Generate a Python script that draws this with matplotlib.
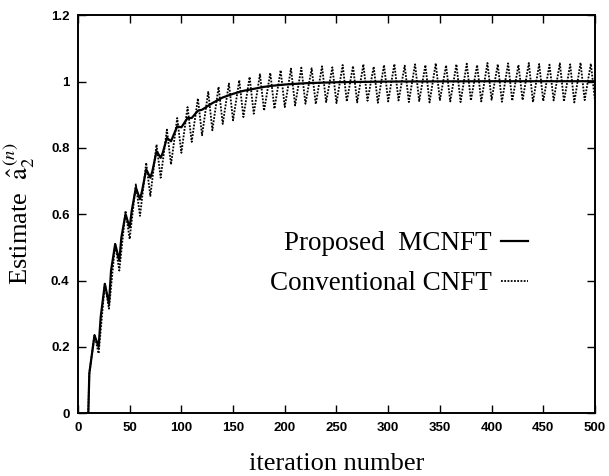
import matplotlib
matplotlib.use("Agg")
import matplotlib.pyplot as plt

# proposed MCNFT (solid), vertices
mcnft_n = [10, 11, 16, 20, 22, 26, 30, 32, 36, 40, 42, 46, 50, 52, 56, 60, 62, 66,
           70, 72, 76, 80, 82, 86, 90, 96, 100, 106, 110, 116, 120, 130, 140, 150,
           160, 170, 180, 190, 200, 220, 250, 300, 400, 500]
mcnft_v = [0.0, 0.12, 0.235, 0.20, 0.29, 0.39, 0.33, 0.43, 0.51, 0.46, 0.53, 0.60,
           0.56, 0.61, 0.68, 0.645, 0.67, 0.735, 0.71, 0.73, 0.79, 0.77, 0.785, 0.83,
           0.82, 0.865, 0.862, 0.89, 0.89, 0.912, 0.915, 0.935, 0.952, 0.963,
           0.972, 0.978, 0.984, 0.988, 0.991, 0.995, 0.998, 1.0, 1.001, 1.001]

# conventional CNFT (dotted): start, then a peak and a trough every 10 iterations
cnft_start_n = [10, 11]
cnft_start_v = [0.0, 0.12]
peak_n = list(range(16, 500, 10))
peak_v = [0.235, 0.39, 0.51, 0.61, 0.69, 0.755, 0.81, 0.855, 0.89, 0.923,
          0.949, 0.969, 0.984, 0.994, 1.004, 1.014, 1.022, 1.026, 1.034, 1.039,
          1.042, 1.04, 1.046, 1.043, 1.05, 1.047, 1.052, 1.045, 1.05, 1.053,
          1.048, 1.052, 1.05, 1.055, 1.049, 1.052, 1.054, 1.05, 1.056, 1.052,
          1.055, 1.05, 1.056, 1.053, 1.051, 1.055, 1.052, 1.057, 1.054]
trough_n = list(range(20, 501, 10))
trough_v = [0.18, 0.315, 0.43, 0.525, 0.595, 0.655, 0.71, 0.75, 0.785, 0.818,
            0.838, 0.853, 0.872, 0.883, 0.893, 0.903, 0.912, 0.918, 0.923, 0.928,
            0.933, 0.932, 0.938, 0.935, 0.94, 0.937, 0.942, 0.936, 0.94, 0.943,
            0.938, 0.941, 0.937, 0.944, 0.94, 0.938, 0.943, 0.94, 0.945, 0.939,
            0.942, 0.944, 0.938, 0.941, 0.943, 0.94, 0.937, 0.944, 0.942]

x_ticks = [0, 50, 100, 150, 200, 250, 300, 350, 400, 450, 500]
y_ticks = [0, 0.2, 0.4, 0.6, 0.8, 1, 1.2]
y_tick_labels = ["0", "0.2", "0.4", "0.6", "0.8", "1", "1.2"]

cnft_n = list(cnft_start_n)
cnft_v = list(cnft_start_v)
for pn, pv, tn, tv in zip(peak_n, peak_v, trough_n, trough_v):
    cnft_n += [pn, tn]
    cnft_v += [pv, tv]

plt.rcParams["mathtext.fontset"] = "stix"
serif = "Liberation Serif"
sans = "Liberation Sans"

fig = plt.figure(figsize=(6.09, 4.76), dpi=100)
ax = fig.add_axes([0.128, 0.132, 0.849, 0.836])

ax.plot(mcnft_n, mcnft_v, color="black", lw=1.6, label="Proposed  MCNFT")
ax.plot(cnft_n, cnft_v, color="black", lw=1.3, linestyle=(0, (1, 0.8)),
        label="Conventional CNFT")

ax.set_xlim(0, 500)
ax.set_ylim(0, 1.2)
ax.set_xticks(x_ticks)
ax.set_xticklabels([str(t) for t in x_ticks], fontfamily=sans, fontsize=9.5,
                   fontweight="bold")
ax.set_yticks(y_ticks)
ax.set_yticklabels(y_tick_labels, fontfamily=sans, fontsize=9.5,
                   fontweight="bold")
ax.tick_params(direction="in", length=6, width=1, top=True, right=True, pad=6)
for s in ax.spines.values():
    s.set_linewidth(1.4)

ax.set_xlabel("iteration number", fontfamily=serif, fontsize=19, labelpad=14)
ax.set_ylabel(r"Estimate  $\hat{\mathrm{a}}_{2}^{\,(n)}$", fontfamily=serif,
              fontsize=19, labelpad=10)

ax.legend(loc="center right", bbox_to_anchor=(0.918, 0.375), frameon=False,
          markerfirst=False, handlelength=1.0, handletextpad=0.35,
          labelspacing=0.55, prop={"family": serif, "size": 19.5})

fig.savefig("out.png", dpi=100)
